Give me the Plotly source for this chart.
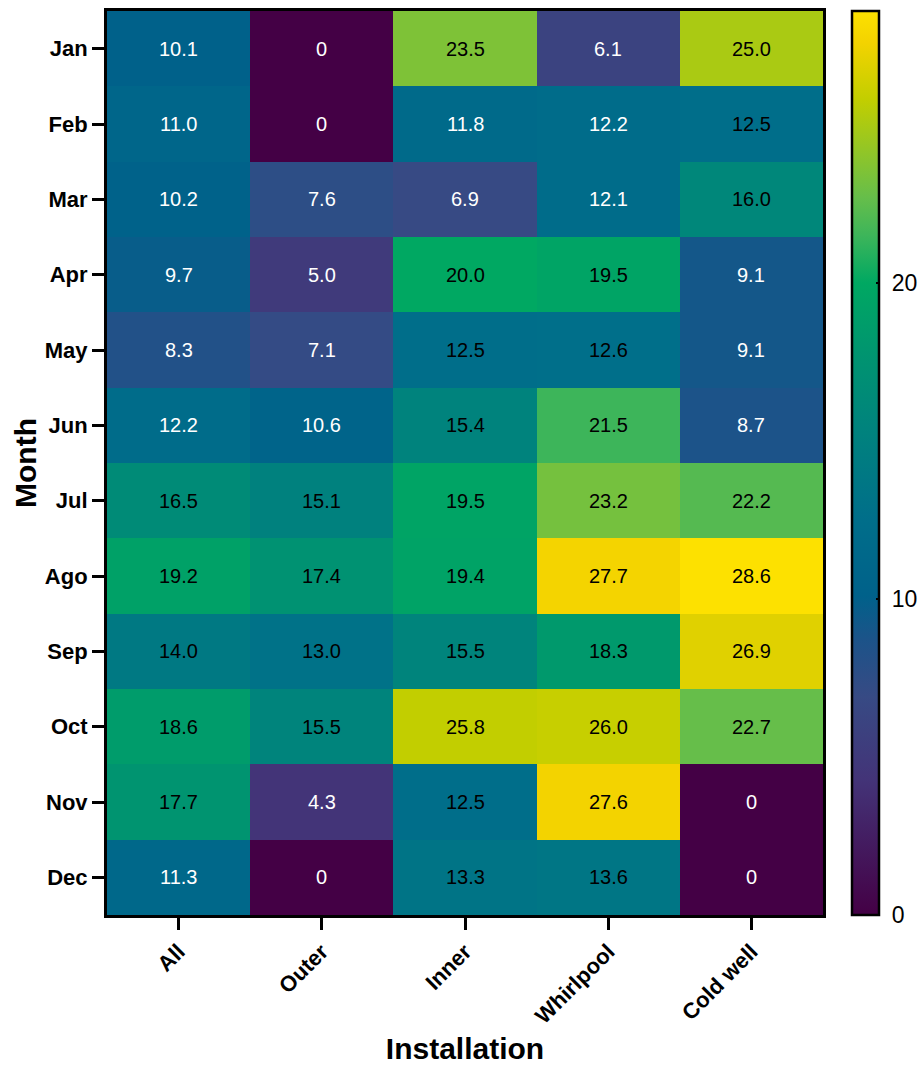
import plotly.graph_objects as go

months = ["Jan", "Feb", "Mar", "Apr", "May", "Jun", "Jul", "Ago", "Sep", "Oct", "Nov", "Dec"]
installations = ["All", "Outer", "Inner", "Whirlpool", "Cold well"]

all_vals = [10.1, 11.0, 10.2, 9.7, 8.3, 12.2, 16.5, 19.2, 14.0, 18.6, 17.7, 11.3]
outer_vals = [0, 0, 7.6, 5.0, 7.1, 10.6, 15.1, 17.4, 13.0, 15.5, 4.3, 0]
inner_vals = [23.5, 11.8, 6.9, 20.0, 12.5, 15.4, 19.5, 19.4, 15.5, 25.8, 12.5, 13.3]
whirlpool_vals = [6.1, 12.2, 12.1, 19.5, 12.6, 21.5, 23.2, 27.7, 18.3, 26.0, 27.6, 13.6]
coldwell_vals = [25.0, 12.5, 16.0, 9.1, 9.1, 8.7, 22.2, 28.6, 26.9, 22.7, 0, 0]

columns = [all_vals, outer_vals, inner_vals, whirlpool_vals, coldwell_vals]
z = [[columns[c][r] for c in range(len(installations))] for r in range(len(months))]

zmax = 28.6
anchors = [
    (0.0, "#440045"), (4.3, "#433478"), (6.9, "#374A84"), (8.7, "#1C5389"),
    (10.1, "#00618A"), (12.5, "#006E8A"), (15.4, "#00837D"), (17.7, "#009470"),
    (20.0, "#00A862"), (21.5, "#3DB55A"), (22.7, "#66BE4A"), (25.8, "#C2CE00"),
    (27.6, "#F3D300"), (28.6, "#FDE100"),
]
colorscale = [[v / zmax, c] for v, c in anchors]

font_family = "Liberation Sans, Arial, sans-serif"

fig = go.Figure(go.Heatmap(
    z=z, x=installations, y=months,
    colorscale=colorscale, zmin=0, zmax=zmax,
    xgap=0, ygap=0,
    colorbar=dict(
        x=1.0405, xanchor="left", y=0.5, yanchor="middle",
        xpad=0, ypad=0,
        len=1.0, lenmode="fraction", thickness=27,
        outlinecolor="black", outlinewidth=2.5,
        tickmode="linear", tick0=0, dtick=10,
        ticks="inside", ticklen=4, tickwidth=2, tickcolor="black",
        tickprefix="\u00a0",
        tickfont=dict(size=23, color="black", family=font_family),
    ),
))

annotations = []
for r, m in enumerate(months):
    for c, inst in enumerate(installations):
        v = z[r][c]
        txt = "0" if v == 0 else f"{v:.1f}"
        annotations.append(dict(
            x=inst, y=m, text=txt, showarrow=False,
            font=dict(size=20, family=font_family, color="white" if v < 12.4 else "black"),
        ))

fig.update_layout(
    width=921, height=1065,
    margin=dict(l=107, r=98, t=11, b=150, autoexpand=False),
    paper_bgcolor="white", plot_bgcolor="white",
    annotations=annotations,
    font=dict(family=font_family, color="black"),
)
fig.update_xaxes(
    showline=True, linecolor="black", linewidth=3, mirror=True,
    ticks="outside", ticklen=12, tickwidth=3, tickcolor="black",
    tickangle=-45,
    tickfont=dict(size=22, family=font_family, color="black", weight="bold"),
    title=dict(text="Installation", font=dict(size=30, weight="bold"), standoff=20),
)
fig.update_yaxes(
    autorange="reversed",
    showline=True, linecolor="black", linewidth=3, mirror=True,
    ticks="outside", ticklen=12, tickwidth=3, tickcolor="black",
    tickfont=dict(size=22, family=font_family, color="black", weight="bold"),
    title=dict(text="Month", font=dict(size=30, weight="bold"), standoff=0),
)

fig.write_html(
    "out.html",
    config={"displayModeBar": False},
    post_script="document.body.style.margin='0';document.body.style.overflow='hidden';",
)
